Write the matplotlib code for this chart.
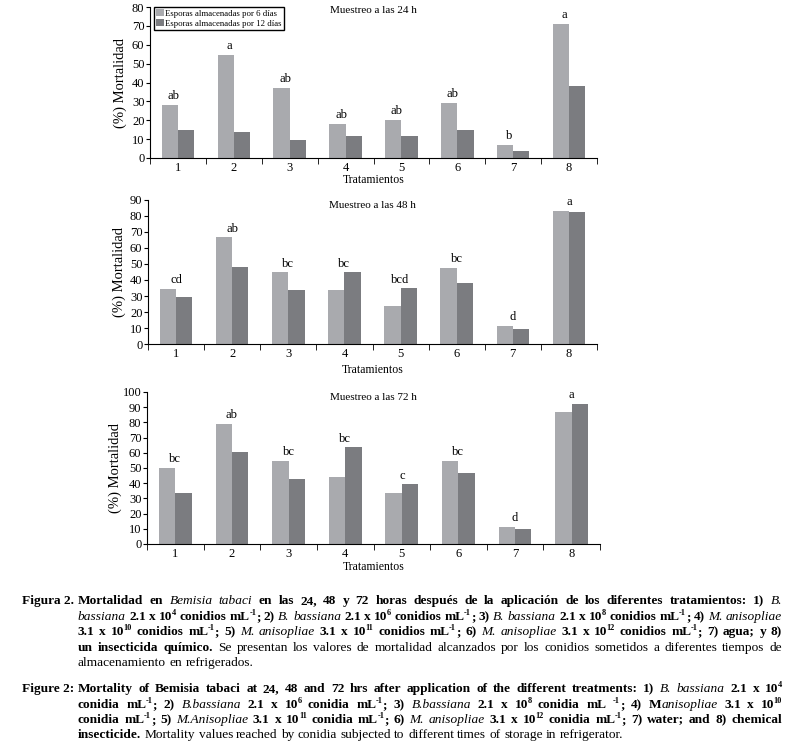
import re
import matplotlib
matplotlib.use("Agg")
import matplotlib.pyplot as plt
import numpy as np

plt.rcParams['font.family'] = ['Liberation Serif', 'DejaVu Serif']

tratamientos = ['1', '2', '3', '4', '5', '6', '7', '8']
serie_6d = 'Esporas almacenadas por 6 días'
serie_12d = 'Esporas almacenadas por 12 días'

# mortalidad (%) a las 24 h
m24_6 = [28, 54.5, 37, 18, 20, 29, 7, 71]
m24_12 = [15, 13.7, 9.3, 11.6, 11.6, 14.8, 3.9, 38]
letras24 = ['ab', 'a', 'ab', 'ab', 'ab', 'ab', 'b', 'a']

# 48 h
m48_6 = [34.5, 66.7, 44.7, 33.5, 23.5, 47.8, 11.4, 83.4]
m48_12 = [29.1, 48, 33.7, 44.7, 34.7, 38, 9.1, 82.5]
letras48 = ['cd', 'ab', 'bc', 'bc', 'bcd', 'bc', 'd', 'a']

# 72 h
m72_6 = [50.1, 79.2, 54.5, 44.2, 33.3, 54.5, 11.2, 86.9]
m72_12 = [33.3, 60.2, 42.5, 63.5, 39.2, 46.6, 10.1, 92.3]
letras72 = ['bc', 'ab', 'bc', 'bc', 'c', 'bc', 'd', 'a']

titulos = ['Muestreo a las 24 h', 'Muestreo a las 48 h', 'Muestreo a las 72 h']

leyenda_es = [
    "<b>Mortalidad en <i>Bemisia tabaci <b>en las 24, 48 y 72 horas después de la aplicación de los diferentes tratamientos: 1) <i>B.",
    "<i>bassiana <b>2.1 x 10^{4} conidios mL^{-1}; 2) <i>B. bassiana <b>2.1 x 10^{6} conidios mL^{-1}; 3) <i>B. bassiana <b>2.1 x 10^{8} conidios mL^{-1}; 4) <i>M. anisopliae",
    "<b>3.1 x 10^{10} conidios mL^{-1}; 5) <i>M. anisopliae <b>3.1 x 10^{11} conidios mL^{-1}; 6) <i>M. anisopliae <b>3.1 x 10^{12} conidios mL^{-1}; 7) agua; y 8)",
    "<b>un insecticida químico. <n>Se presentan los valores de mortalidad alcanzados por los conidios sometidos a diferentes tiempos de",
    "<n>almacenamiento en refrigerados.",
]
leyenda_en = [
    "<b>Mortality of Bemisia tabaci at 24, 48 and 72 hrs after application of the different treatments: 1) <i>B. bassiana <b>2.1 x 10^{4}",
    "<b>conidia mL^{-1}; 2) <i>B.bassiana <b>2.1 x 10^{6} conidia mL^{-1}; 3) <i>B.bassiana <b>2.1 x 10^{8} conidia mL ^{-1}; 4) M<i>anisopliae <b>3.1 x 10^{10}",
    "<b>conidia mL^{-1}; 5) <i>M.Anisopliae <b>3.1 x 10^{11} conidia mL^{-1}; 6) <i>M. anisopliae <b>3.1 x 10^{12} conidia mL^{-1}; 7) water; and 8) chemical",
    "<b>insecticide. <n>Mortality values reached by conidia subjected to different times of storage in refrigerator.",
]

c_claro = '#a9aaae'
c_oscuro = '#7b7c80'
W, H = 795, 754

fig = plt.figure(figsize=(7.95, 7.54), dpi=100)


def panel(rect, v6, v12, letras, ymax, titulo, dx, ylab_x, xlab_y, ty, leyenda=False):
    ax = fig.add_axes(rect)
    x = np.arange(1, 9)
    w = 0.29
    ax.bar(x - w / 2, v6, w, color=c_claro, label=serie_6d)
    ax.bar(x + w / 2, v12, w, color=c_oscuro, label=serie_12d)
    for xi, a, b, l in zip(x, v6, v12, letras):
        ax.annotate(l, (xi + dx, max(a, b)), xytext=(0, 2), textcoords='offset points',
                    ha='center', va='bottom', fontsize=9)
    ax.set_xlim(0.5, 8.5)
    ax.set_ylim(0, ymax)
    ax.set_yticks(np.arange(0, ymax + 1, 10))
    ax.set_xticks(x)
    ax.set_xticklabels(tratamientos)
    ax.set_xticks(np.arange(0.5, 9, 1), minor=True)
    ax.tick_params(axis='x', which='major', length=0, pad=3, labelsize=9)
    ax.tick_params(axis='x', which='minor', length=4, direction='out')
    ax.tick_params(axis='y', length=3, direction='out', labelsize=9, pad=1)
    ax.spines['top'].set_visible(False)
    ax.spines['right'].set_visible(False)
    ax.set_ylabel('(%) Mortalidad', fontsize=10.5)
    ax.yaxis.set_label_coords(ylab_x, 0.5)
    ax.set_xlabel('Tratamientos', fontsize=8.5)
    ax.xaxis.set_label_coords(0.5, xlab_y)
    ax.text(0.5, ty, titulo, transform=ax.transAxes, ha='center', va='center', fontsize=8)
    if leyenda:
        ax.legend(loc='upper left', bbox_to_anchor=(0.008, 1.0), borderaxespad=0,
                  fontsize=6.3, fancybox=False, edgecolor='black', framealpha=1,
                  borderpad=0.25, labelspacing=0.15, handletextpad=0.2,
                  handlelength=0.9, handleheight=0.9)
    return ax


panel([150 / W, 1 - 158 / H, 447 / W, 151 / H], m24_6, m24_12, letras24, 80, titulos[0],
      -0.08, -0.051, -0.106, 0.974, leyenda=True)
panel([148 / W, 1 - 344 / H, 449 / W, 144 / H], m48_6, m48_12, letras48, 90, titulos[1],
      0, -0.048, -0.139, 0.965)
panel([147 / W, 1 - 544 / H, 453 / W, 152 / H], m72_6, m72_12, letras72, 100, titulos[2],
      0, -0.055, -0.112, 0.967)

# ---- pie de figura ----
renderer = fig.canvas.get_renderer()


def piezas(linea):
    palabras = [[]]
    estilo = 'n'
    for tok in re.findall(r'<[bin]>|\^\{[^}]*\}| |[^<^ ]+', linea):
        if tok == ' ':
            palabras.append([])
        elif tok.startswith('<'):
            estilo = tok[1]
        elif tok.startswith('^'):
            palabras[-1].append((tok[2:-1], estilo, True))
        else:
            palabras[-1].append((tok, estilo, False))
    return [p for p in palabras if p]


def crear(linea, fs):
    grupos, anchos = [], []
    for p in piezas(linea):
        grupo, suma = [], 0
        for txt, est, sup in p:
            t = fig.text(0, 0, txt, fontsize=fs * 0.62 if sup else fs,
                         fontweight='bold' if est == 'b' else 'normal',
                         fontstyle='italic' if est == 'i' else 'normal',
                         va='baseline', ha='left')
            ancho = t.get_window_extent(renderer).width
            if sup and suma > 0:
                suma -= 0.5
            grupo.append((t, suma, sup))
            suma += ancho
        grupos.append(grupo)
        anchos.append(suma)
    return grupos, anchos


def escribir(linea, x0, x1, base, fs, justificar):
    grupos, anchos = crear(linea, fs)
    px = fs * 100 / 72
    gap = px * 0.25
    if justificar and len(grupos) > 1:
        gap = (x1 - x0 - sum(anchos)) / (len(grupos) - 1)
    x = x0
    for grupo, ancho in zip(grupos, anchos):
        for t, off, sup in grupo:
            y = base - (px * 0.40 if sup else 0)
            t.set_position(((x + off) / W, 1 - y / H))
        x += ancho + gap


# tamaño de letra que cabe en el ancho
fs = 10
escala = 1.0
for linea in leyenda_es[:-1] + leyenda_en[:-1]:
    grupos, anchos = crear(linea, fs)
    natural = sum(anchos) + fs * 100 / 72 * 0.18 * (len(grupos) - 1)
    escala = min(escala, (782 - 78) / natural)
    for g in grupos:
        for t, _, _ in g:
            t.remove()
fs = min(9.6, fs * escala)

fig.text(74 / W, 1 - 604 / H, 'Figura 2.', fontsize=fs, fontweight='bold', ha='right', va='baseline')
for i, (linea, base) in enumerate(zip(leyenda_es, [604, 620, 635, 651, 666])):
    escribir(linea, 78, 782, base, fs, i < len(leyenda_es) - 1)

fig.text(74 / W, 1 - 692 / H, 'Figure 2:', fontsize=fs, fontweight='bold', ha='right', va='baseline')
for i, (linea, base) in enumerate(zip(leyenda_en, [692, 708, 723, 738])):
    escribir(linea, 78, 782, base, fs, i < len(leyenda_en) - 1)

fig.savefig('out.png', dpi=100)
